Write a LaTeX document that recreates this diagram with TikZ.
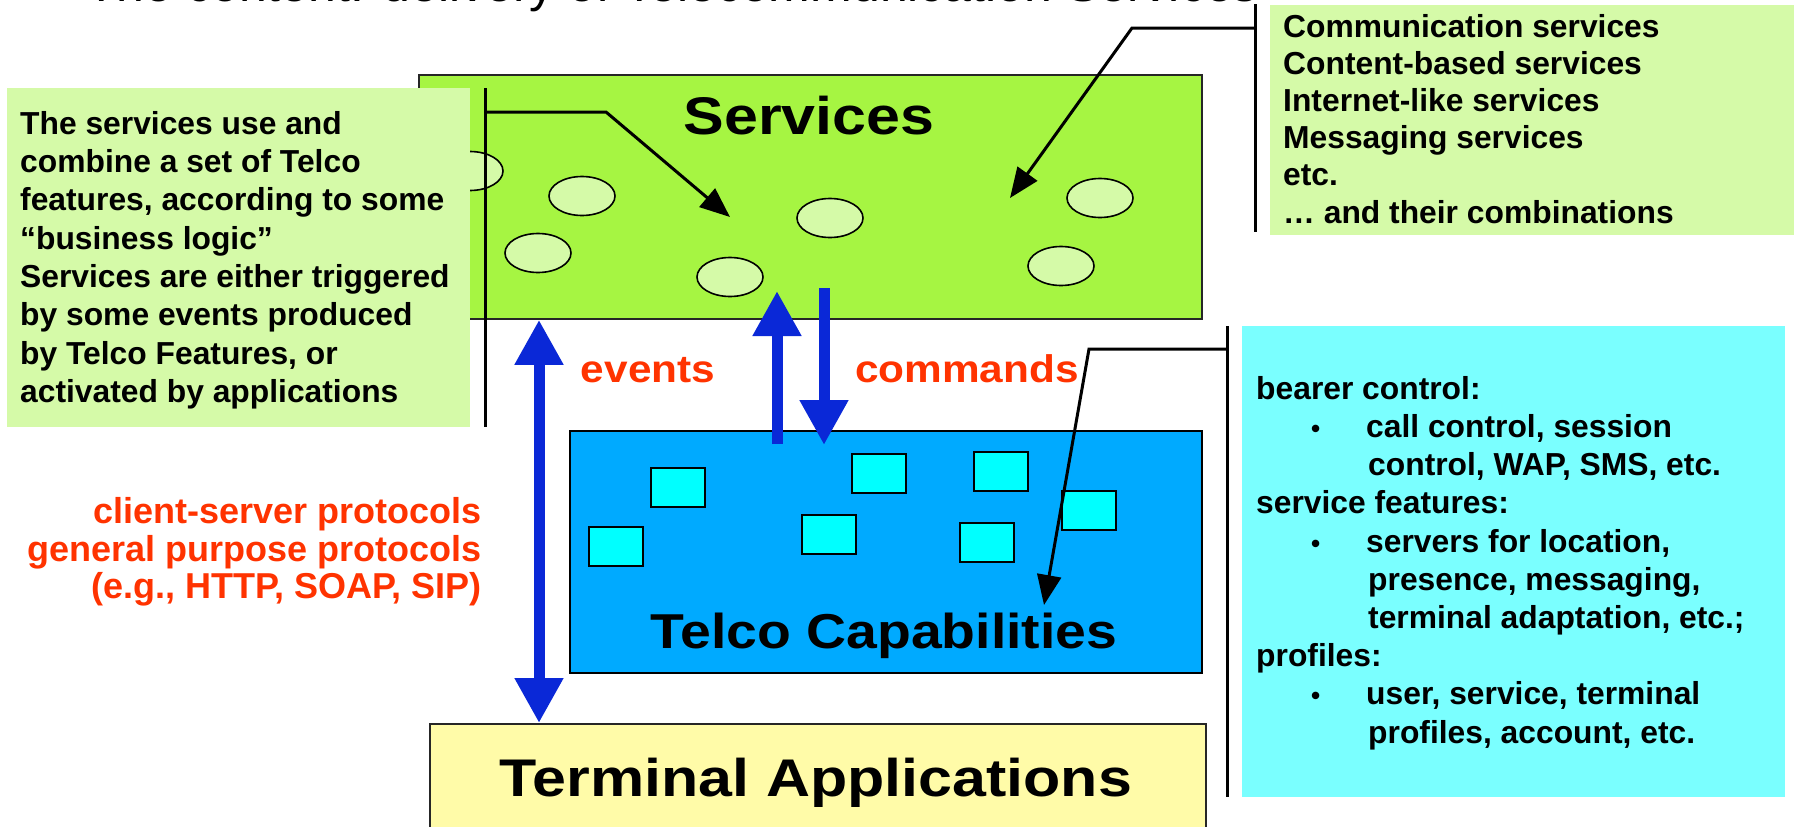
\documentclass[tikz,border=0pt]{standalone}
\usepackage{fontspec}
\setmainfont{Liberation Sans}
\usepackage{graphicx}
\usetikzlibrary{arrows.meta,shapes.geometric,calc}

\definecolor{svcgreen}{RGB}{166,245,66}
\definecolor{palegreen}{RGB}{213,250,168}
\definecolor{capblue}{RGB}{0,170,255}
\definecolor{capcyan}{RGB}{0,255,255}
\definecolor{palecyan}{RGB}{122,255,255}
\definecolor{termyellow}{RGB}{255,251,168}
\definecolor{flowblue}{RGB}{10,40,215}
\definecolor{protored}{RGB}{255,51,0}

\newcommand\notetext{\bfseries\fontsize{31.8}{38.2}\selectfont}
\newcommand\layerfont{\bfseries\fontsize{53}{60}\selectfont}
\newcommand\flowfont{\bfseries\fontsize{38.5}{44}\selectfont}
\newcommand\itemdot{\makebox[55pt][l]{\fontsize{26}{26}\selectfont•}}

\tikzset{
  layerbox/.style={draw=black!85, line width=1.8pt, anchor=north west, inner sep=0pt},
  plainbox/.style={anchor=north west, inner sep=0pt, draw=none},
  svc/.style={ellipse, draw=black, line width=1.6pt, fill=palegreen,
    minimum width=66pt, minimum height=39pt, inner sep=0pt},
  feat/.style={rectangle, draw=black, line width=2pt, fill=capcyan,
    minimum width=54pt, minimum height=39pt, inner sep=0pt},
  notenode/.style={anchor=north west, inner sep=0pt, align=left, font=\notetext},
  bar/.style={draw=black, line width=3pt},
  leadtip/.tip={Triangle[length=30pt,width=24pt]},
  lead/.style={draw=black, line width=3pt, -leadtip},
  flowtip/.tip={Triangle[length=45pt,width=46pt]},
  flow/.style={draw=flowblue, line width=11pt, -flowtip},
}

\begin{document}
\begin{tikzpicture}[x=1pt,y=-1pt]
\useasboundingbox (0,0) rectangle (1794,827);
\clip (0,0) rectangle (1794,827);
\fill[white] (0,0) rectangle (1794,827);

% heading, mostly above the page edge
\node[anchor=base west, inner sep=0pt, font=\fontsize{50}{60}\selectfont] (title) at (86,1.5)
  {The content: delivery of Telecommunication Services};

% ---- Services layer ----
\node[layerbox, fill=svcgreen, minimum width=783pt, minimum height=244pt] (serv) at (418,74) {};
\node[anchor=base, inner sep=0pt] (servlbl) at (809,134) {\layerfont\scalebox{1.15}[1]{Services}};
\foreach \n/\x/\y in {1/470/171, 2/582/196, 3/538/253, 4/730/277, 5/830/218, 6/1100/198, 7/1061/266}
  \node[svc] (s\n) at (\x,\y) {};

% ---- left note ----
\node[plainbox, fill=palegreen, minimum width=463pt, minimum height=339pt] (leftbg) at (7,88) {};
\node[notenode, font=\bfseries\fontsize{31.8}{38.3}\selectfont] (lefttxt) at (20,107.2) {\strut The services use and\\
combine a set of Telco\\
features, according to some\\
“business logic”\\
Services are either triggered\\
by some events produced\\
by Telco Features, or\\
activated by applications};

% ---- Telco Capabilities layer ----
\node[layerbox, draw=black, fill=capblue, minimum width=632pt, minimum height=242pt] (cap) at (569,430) {};
\node[anchor=base, inner sep=0pt] (caplbl) at (884,648)
  {\bfseries\fontsize{49}{56}\selectfont\scalebox{1.13}[1]{Telco Capabilities}};
\foreach \n/\x/\y in {1/678/487, 2/879/473.5, 3/1001/471.5, 4/1089/510, 5/616/546.5, 6/829/534, 7/987/542.5}
  \node[feat] (f\n) at (\x,\y) {};

% ---- Terminal Applications layer ----
\node[layerbox, fill=termyellow, minimum width=776pt, minimum height=150pt] (term) at (429,723) {};
\node[anchor=base, inner sep=0pt] (termlbl) at (816,796) {\layerfont\scalebox{1.15}[1]{Terminal Applications}};

% ---- right notes ----
\node[plainbox, fill=palegreen, minimum width=524pt, minimum height=230pt] (kindsbg) at (1270,5) {};
\node[notenode, font=\bfseries\fontsize{31.8}{37.2}\selectfont] (kinds) at (1283,10.9) {\strut Communication services\\
Content-based services\\
Internet-like services\\
Messaging services\\
etc.\\
… and their combinations};

\node[plainbox, fill=palecyan, minimum width=543pt, minimum height=471pt] (featbg) at (1242,326) {};
\node[notenode] (feattxt) at (1256,372.3) {\strut bearer control:\\
\hspace*{55pt}\itemdot call control, session\\
\hspace*{112pt}control, WAP, SMS, etc.\\
service features:\\
\hspace*{55pt}\itemdot servers for location,\\
\hspace*{112pt}presence, messaging,\\
\hspace*{112pt}terminal adaptation, etc.;\\
profiles:\\
\hspace*{55pt}\itemdot user, service, terminal\\
\hspace*{112pt}profiles, account, etc.};

% ---- flow labels ----
\node[anchor=base, inner sep=0pt, text=protored] (evlbl) at (648,382) {\flowfont\scalebox{1.1}[1]{events}};
\node[anchor=base, inner sep=0pt, text=protored] (cmdlbl) at (967,382) {\flowfont\scalebox{1.1}[1]{commands}};
\node[anchor=north east, inner sep=0pt, align=right, text=protored,
      font=\bfseries\fontsize{36}{36.5}\selectfont] (proto) at (482,497.5)
  {\strut client-server protocols\\ general purpose protocols\\ (e.g., HTTP, SOAP, SIP)};

% ---- bracket bars and leader arrows ----
\coordinate (lbarA) at (485,88);
\coordinate (lbarB) at (485,427);
\coordinate (lbend) at (606,112);
\coordinate (ltip) at (730,217);
\draw[bar] (lbarA) -- (lbarB);
\draw[lead] (lbarA |- lbend) -- (lbend) -- (ltip);

\coordinate (kbarA) at (1255,4);
\coordinate (kbarB) at (1255,232);
\coordinate (kbend) at (1132,28);
\coordinate (ktip) at (1010,198);
\draw[bar] (kbarA) -- (kbarB);
\draw[lead] (kbarA |- kbend) -- (kbend) -- (ktip);

\coordinate (fbarA) at (1227,326);
\coordinate (fbarB) at (1227,797);
\coordinate (fbend) at (1089,349);
\coordinate (ftip) at (1044,605);
\draw[bar] (fbarA) -- (fbarB);
\draw[lead] (fbarA |- fbend) -- (fbend) -- (ftip);

% ---- blue protocol arrows ----
\coordinate (protoTop) at ($(serv.south west)+(121,0)$);
\coordinate (protoBot) at (protoTop |- term.north);
\draw[flow, flowtip-flowtip] (protoTop) -- (protoBot);

\coordinate (evFrom) at (777,444);
\coordinate (evTo) at (777,291);
\draw[flow] (evFrom) -- (evTo);

\coordinate (cmdFrom) at (824,288);
\coordinate (cmdTo) at (824,445);
\draw[flow] (cmdFrom) -- (cmdTo);
\end{tikzpicture}
\end{document}
